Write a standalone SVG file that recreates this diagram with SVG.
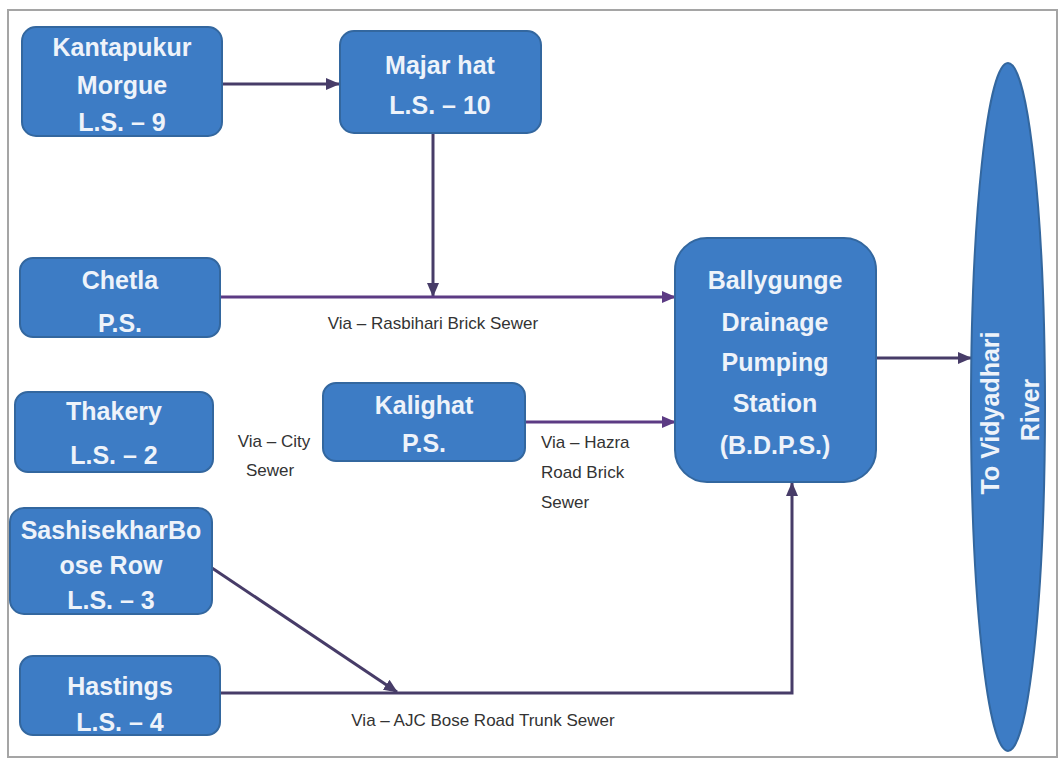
<svg xmlns="http://www.w3.org/2000/svg" width="1061" height="760" viewBox="0 0 1061 760">
<style>
.box{fill:#3d7cc5;stroke:#33679f;stroke-width:2}
.t{font-family:"Liberation Sans",Arial,sans-serif;font-weight:bold;font-size:25px;fill:#eef3fa;text-anchor:middle}
.l{font-family:"Liberation Sans",Arial,sans-serif;font-size:17px;fill:#333}
.c{fill:none;stroke:#473c68;stroke-width:3}
.p{fill:none;stroke:#5c3b84;stroke-width:3}
</style>
<defs>
<marker id="a" markerUnits="userSpaceOnUse" markerWidth="14" markerHeight="12" refX="13" refY="6" orient="auto"><path d="M0,0 L14,6 L0,12 Z" fill="#473c68"/></marker>
<marker id="ap" markerUnits="userSpaceOnUse" markerWidth="14" markerHeight="12" refX="13" refY="6" orient="auto"><path d="M0,0 L14,6 L0,12 Z" fill="#5c3b84"/></marker>
</defs>
<rect x="0" y="0" width="1061" height="760" fill="#fff"/>
<rect x="8" y="10" width="1049" height="747" fill="none" stroke="#a5a5a5" stroke-width="2"/>
<g id="connectors">
<line class="c" x1="222" y1="84" x2="339" y2="84" marker-end="url(#a)"/>
<line class="c" x1="433" y1="134" x2="433" y2="296" marker-end="url(#a)"/>
<line class="p" x1="220" y1="297" x2="675" y2="297" marker-end="url(#ap)"/>
<line class="p" x1="525" y1="422" x2="675" y2="422" marker-end="url(#ap)"/>
<line class="c" x1="876" y1="358" x2="971" y2="358" marker-end="url(#a)"/>
<line class="c" x1="212" y1="568" x2="397" y2="692" marker-end="url(#a)"/>
<polyline class="c" points="220,693 792,693 792,483" marker-end="url(#a)"/>
<text class="l" x="433" y="329" text-anchor="middle">Via – Rasbihari Brick Sewer</text>
<text class="l" x="274" y="447" text-anchor="middle">Via – City</text>
<text class="l" x="270" y="476" text-anchor="middle">Sewer</text>
<text class="l" x="541" y="448">Via – Hazra</text>
<text class="l" x="541" y="478">Road Brick</text>
<text class="l" x="541" y="508">Sewer</text>
<text class="l" x="483" y="726" text-anchor="middle">Via – AJC Bose Road Trunk Sewer</text>
</g>
<g id="kantapukur">
<rect class="box" x="22" y="27" width="200" height="109" rx="14"/>
<text class="t" x="122" y="56">Kantapukur</text>
<text class="t" x="122" y="94">Morgue</text>
<text class="t" x="122" y="131">L.S. – 9</text>
</g>
<g id="majarhat">
<rect class="box" x="340" y="31" width="201" height="102" rx="14"/>
<text class="t" x="440" y="74">Majar hat</text>
<text class="t" x="440" y="114">L.S. – 10</text>
</g>
<g id="chetla">
<rect class="box" x="20" y="258" width="200" height="79" rx="13"/>
<text class="t" x="120" y="289">Chetla</text>
<text class="t" x="120" y="332">P.S.</text>
</g>
<g id="thakery">
<rect class="box" x="15" y="392" width="198" height="80" rx="13"/>
<text class="t" x="114" y="420">Thakery</text>
<text class="t" x="114" y="464">L.S. – 2</text>
</g>
<g id="kalighat">
<rect class="box" x="323" y="383" width="202" height="78" rx="13"/>
<text class="t" x="424" y="414">Kalighat</text>
<text class="t" x="424" y="452">P.S.</text>
</g>
<g id="sashisekhar">
<rect class="box" x="10" y="508" width="202" height="106" rx="14"/>
<text class="t" x="111" y="539">SashisekharBo</text>
<text class="t" x="111" y="574">ose Row</text>
<text class="t" x="111" y="609">L.S. – 3</text>
</g>
<g id="hastings">
<rect class="box" x="20" y="656" width="200" height="79" rx="13"/>
<text class="t" x="120" y="695">Hastings</text>
<text class="t" x="120" y="731">L.S. – 4</text>
</g>
<g id="bdps">
<rect class="box" x="675" y="238" width="201" height="244" rx="32"/>
<text class="t" x="775" y="289">Ballygunge</text>
<text class="t" x="775" y="331">Drainage</text>
<text class="t" x="775" y="371">Pumping</text>
<text class="t" x="775" y="412">Station</text>
<text class="t" x="775" y="454">(B.D.P.S.)</text>
</g>
<g id="river">
<ellipse class="box" cx="1008" cy="407" rx="37" ry="344"/>
<text class="t" transform="translate(999,413) rotate(-90)">To Vidyadhari</text>
<text class="t" transform="translate(1039,410) rotate(-90)">River</text>
</g>
</svg>
